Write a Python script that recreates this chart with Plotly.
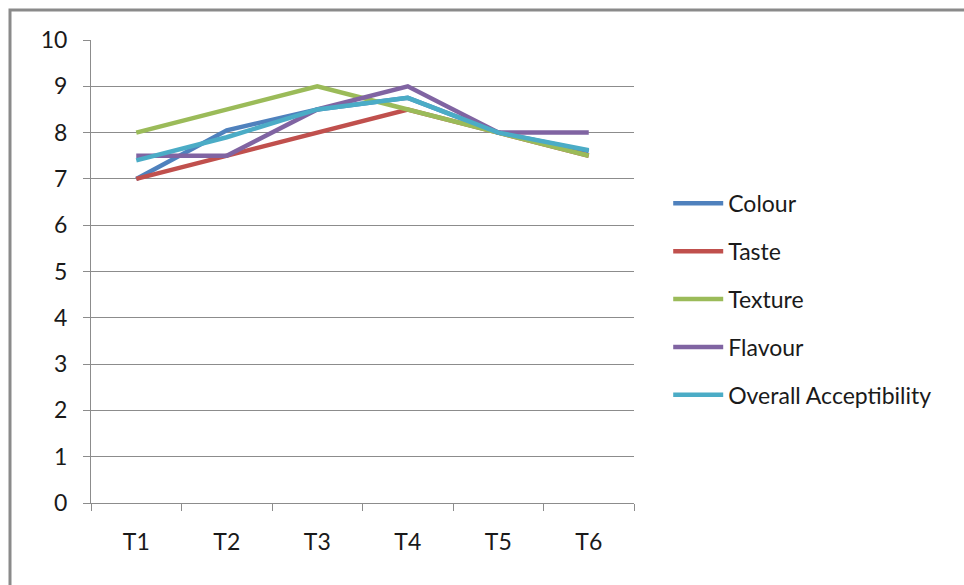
import plotly.graph_objects as go

categories = ["T1", "T2", "T3", "T4", "T5", "T6"]
colour = [7.0, 8.05, 8.5, 8.75, 8.0, 7.6]
taste = [7.0, 7.5, 8.0, 8.5, 8.0, 7.5]
texture = [8.0, 8.5, 9.0, 8.5, 8.0, 7.5]
flavour = [7.5, 7.5, 8.5, 9.0, 8.0, 8.0]
overall = [7.4, 7.9, 8.5, 8.75, 8.0, 7.62]

series_names = ["Colour", "Taste", "Texture", "Flavour", "Overall Acceptibility"]
series_values = [colour, taste, texture, flavour, overall]
series_colors = ["#4F81BD", "#C0504D", "#9BBB59", "#8064A2", "#4BACC6"]

fig = go.Figure()
for i, (name, vals, col) in enumerate(zip(series_names, series_values, series_colors)):
    fig.add_trace(go.Scatter(
        x=categories, y=vals, name=name, mode="lines",
        line=dict(color=col, width=4.5), legendgroup=f"g{i}",
    ))

font_family = "Lato, 'Open Sans', sans-serif"
grid_col = "#8C8C8C"

fig.update_layout(
    width=964, height=585,
    margin=dict(l=91, r=330, t=40, b=82),
    paper_bgcolor="white", plot_bgcolor="white",
    font=dict(family=font_family, size=23, color="#1a1a1a"),
    showlegend=True,
    legend=dict(
        x=1.063, xanchor="left", y=0.44, yanchor="middle",
        font=dict(size=23, family=font_family, color="#1a1a1a"),
        tracegroupgap=15, bgcolor="rgba(0,0,0,0)", itemwidth=50,
    ),
    xaxis=dict(
        type="category", showgrid=False, showline=True, linecolor=grid_col, linewidth=1,
        ticks="outside", tickson="boundaries", ticklen=7, tickcolor=grid_col,
        ticklabelstandoff=18, tickfont=dict(size=23), range=[-0.5, 5.5],
    ),
    yaxis=dict(
        range=[0, 10], dtick=1, showgrid=True, gridcolor=grid_col, gridwidth=1,
        showline=True, linecolor=grid_col, linewidth=1, zeroline=False,
        ticks="outside", ticklen=7, tickcolor=grid_col, ticklabelstandoff=11,
        tickfont=dict(size=23),
    ),
    shapes=[dict(
        type="rect", xref="paper", yref="paper",
        x0=(10 - 91) / 543, x1=(980 - 91) / 543,
        y0=(503 - 600) / 463, y1=(503 - 10) / 463,
        line=dict(color="#8A8A8A", width=3), fillcolor="rgba(0,0,0,0)", layer="below",
    )],
)

fig.write_html("out.html")
